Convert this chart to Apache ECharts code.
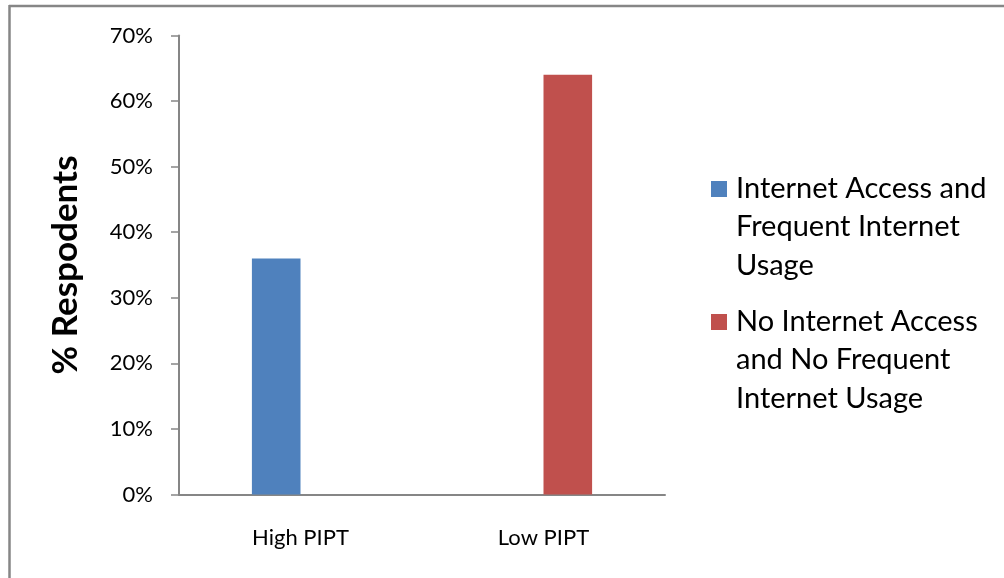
<!DOCTYPE html>
<html>
<head>
<meta charset="utf-8">
<script src="https://cdn.jsdelivr.net/npm/echarts@6/dist/echarts.min.js"></script>
<style>
  html, body { margin: 0; padding: 0; background: #fff; }
  #chart { width: 1004px; height: 578px; }
</style>
</head>
<body>
<div id="chart"></div>
<script>
var categories = ["High PIPT", "Low PIPT"];
var seriesNames = [
  "Internet Access and\nFrequent Internet\nUsage",
  "No Internet Access\nand No Frequent\nInternet Usage"
];
var accessValues = [36, "-"];
var noAccessValues = ["-", 64];
var yTicks = [0, 10, 20, 30, 40, 50, 60, 70];

var colors = ["#4F81BD", "#C0504D"];
var font = "Lato, 'Open Sans', sans-serif";

var chart = echarts.init(document.getElementById("chart"));

// legend drawn by hand so the marker sits on the first text line (Excel style)
var legendItems = [];
var legendTop = [180, 313];
for (var i = 0; i < seriesNames.length; i++) {
  legendItems.push({
    type: "rect",
    shape: { x: 711, y: legendTop[i] + 1, width: 16, height: 16 },
    style: { fill: colors[i] }
  });
  legendItems.push({
    type: "text",
    x: 736,
    y: legendTop[i] - 11,
    style: {
      text: seriesNames[i],
      font: "29px " + font,
      fill: "#000",
      lineHeight: 38.5,
      verticalAlign: "top"
    }
  });
}

var options = {
  animation: false,
  color: colors,
  grid: {
    left: 179,
    right: 339,
    top: 35.5,
    bottom: 83.5,
    containLabel: false
  },
  xAxis: {
    type: "category",
    data: categories,
    axisLine: { lineStyle: { color: "#868686", width: 2 } },
    axisTick: { show: false },
    axisLabel: {
      color: "#000",
      fontFamily: font,
      fontSize: 22,
      margin: 32
    }
  },
  yAxis: {
    type: "value",
    min: yTicks[0],
    max: yTicks[yTicks.length - 1],
    interval: 10,
    name: "% Respodents",
    nameLocation: "middle",
    nameRotate: 90,
    nameGap: 96,
    nameTextStyle: {
      color: "#000",
      fontFamily: font,
      fontSize: 35,
      fontWeight: "bold"
    },
    axisLine: { show: true, lineStyle: { color: "#868686", width: 2 } },
    axisTick: { show: true, length: 8, lineStyle: { color: "#868686", width: 1.5 } },
    splitLine: { show: false },
    axisLabel: {
      color: "#000",
      fontFamily: font,
      fontSize: 22,
      margin: 26,
      formatter: "{value}%"
    }
  },
  series: [
    {
      name: seriesNames[0],
      type: "bar",
      data: accessValues,
      barGap: "0%",
      barCategoryGap: "60%"
    },
    {
      name: seriesNames[1],
      type: "bar",
      data: noAccessValues,
      barGap: "0%",
      barCategoryGap: "60%"
    }
  ],
  graphic: [
    {
      type: "line",
      shape: { x1: 9, y1: 6, x2: 1004, y2: 6 },
      style: { stroke: "#868686", lineWidth: 2.5 }
    },
    {
      type: "line",
      shape: { x1: 9.5, y1: 5, x2: 9.5, y2: 578 },
      style: { stroke: "#868686", lineWidth: 2.5 }
    }
  ].concat(legendItems)
};

chart.setOption(options);
</script>
</body>
</html>
